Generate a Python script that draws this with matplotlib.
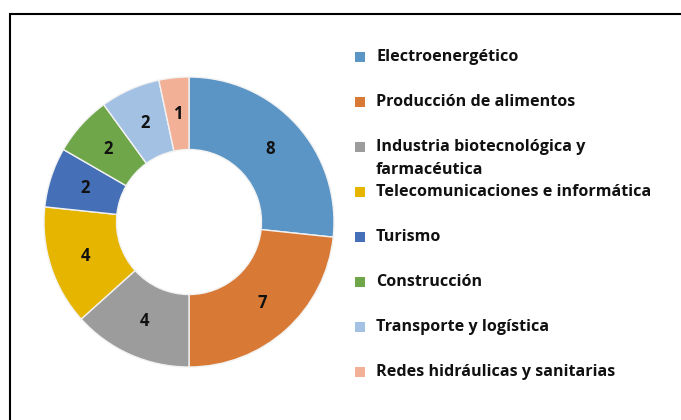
import matplotlib.pyplot as plt
import numpy as np
from matplotlib.patches import Rectangle

# Datos del gráfico
sectores = ['Electroenergético', 'Producción de alimentos',
            'Industria biotecnológica y\nfarmacéutica',
            'Telecomunicaciones e informática', 'Turismo', 'Construcción',
            'Transporte y logística', 'Redes hidráulicas y sanitarias']
cantidades = [8, 7, 4, 4, 2, 2, 2, 1]
colores = ['#5B95C5', '#D87A35', '#9C9C9C', '#E6B500',
           '#4570B8', '#6FA64A', '#A3C1E3', '#F2B097']

plt.rcParams['font.family'] = ['Open Sans', 'DejaVu Sans']

W, H = 681, 420
fig = plt.figure(figsize=(W / 100, H / 100), dpi=100)

# marco del gráfico (recortado a la derecha y abajo)
fig.patches.append(Rectangle((10 / W, -0.05), 1.2, (H - 14) / H + 0.05,
                             transform=fig.transFigure, fill=False,
                             edgecolor='black', linewidth=1.5))

cx, cy, r = 189, 222, 145
ax = fig.add_axes([(cx - r) / W, (H - cy - r) / H, 2 * r / W, 2 * r / H])
ax.pie(cantidades, colors=colores, startangle=90, counterclock=False, radius=1,
       wedgeprops=dict(width=0.5, edgecolor='#F2F2F2', linewidth=1))

# etiquetas de valores en el centro del anillo
total = sum(cantidades)
ang = 90.0
for v in cantidades:
    mid = np.deg2rad(ang - 180 * v / total)
    ax.text(0.75 * np.cos(mid), 0.75 * np.sin(mid), str(v), ha='center', va='center',
            fontsize=12, fontweight='bold', color='#111111')
    ang -= 360 * v / total
ax.set_xlim(-1, 1)
ax.set_ylim(-1, 1)
ax.set_aspect('equal')
ax.axis('off')

# leyenda manual
for i, (s, c) in enumerate(zip(sectores, colores)):
    y = 57 + 45 * i
    fig.patches.append(Rectangle((355 / W, 1 - (y + 5) / H), 10 / W, 10 / H,
                                 transform=fig.transFigure, facecolor=c, edgecolor='none'))
    for k, linea in enumerate(s.split('\n')):
        fig.text(376 / W, 1 - (y + 23 * k) / H, linea, ha='left', va='center',
                 fontsize=11.6, fontweight='bold', color='#111111')

fig.savefig('out.png', dpi=100)
